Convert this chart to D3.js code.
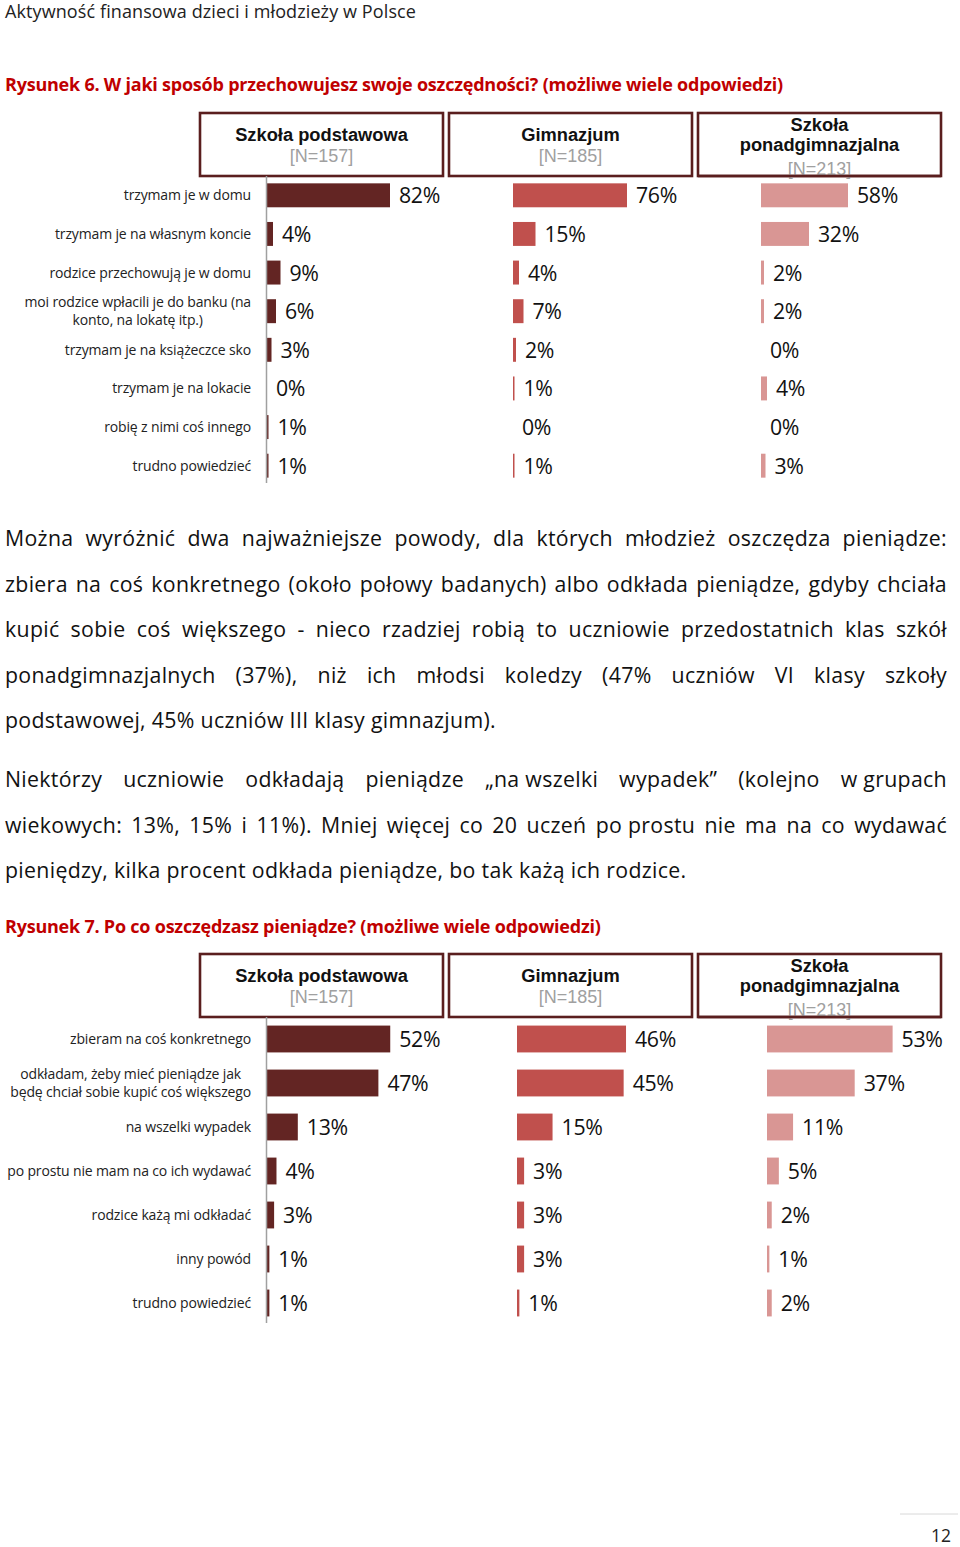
<!DOCTYPE html>
<html>
<head>
<meta charset="utf-8">
<script src="https://cdn.jsdelivr.net/npm/d3@7"></script>
<style>
  html, body { margin: 0; padding: 0; background: #fff; }
  svg { display: block; }
</style>
</head>
<body>
<svg id="page" width="960" height="1547"></svg>
<script>
// ---------- DATA ----------
const pageTitle = "Aktywność finansowa dzieci i młodzieży w Polsce";
const fig6Title = "Rysunek 6. W jaki sposób przechowujesz swoje oszczędności? (możliwe wiele odpowiedzi)";
const fig7Title = "Rysunek 7. Po co oszczędzasz pieniądze? (możliwe wiele odpowiedzi)";
const pageNumber = "12";

const groupNames = ["Szkoła podstawowa", "Gimnazjum", "Szkoła\nponadgimnazjalna"];
const groupN = ["[N=157]", "[N=185]", "[N=213]"];

const fig6Categories = [
  "trzymam je w domu",
  "trzymam je na własnym koncie",
  "rodzice przechowują je w domu",
  "moi rodzice wpłacili je do banku (na\nkonto, na lokatę itp.)",
  "trzymam je na książeczce sko",
  "trzymam je na lokacie",
  "robię z nimi coś innego",
  "trudno powiedzieć"
];
const fig6Podstawowa = [82, 4, 9, 6, 3, 0, 1, 1];
const fig6Gimnazjum  = [76, 15, 4, 7, 2, 1, 0, 1];
const fig6Ponadgim   = [58, 32, 2, 2, 0, 4, 0, 3];

const fig7Categories = [
  "zbieram na coś konkretnego",
  "odkładam, żeby mieć pieniądze jak\nbędę chciał sobie kupić coś większego",
  "na wszelki wypadek",
  "po prostu nie mam na co ich wydawać",
  "rodzice każą mi odkładać",
  "inny powód",
  "trudno powiedzieć"
];
const fig7Podstawowa = [52, 47, 13, 4, 3, 1, 1];
const fig7Gimnazjum  = [46, 45, 15, 3, 3, 3, 1];
const fig7Ponadgim   = [53, 37, 11, 5, 2, 1, 2];

const paragraph1 = [
  "Można wyróżnić dwa najważniejsze powody, dla których młodzież oszczędza pieniądze:",
  "zbiera na coś konkretnego (około połowy badanych) albo odkłada pieniądze, gdyby chciała",
  "kupić sobie coś większego - nieco rzadziej robią to uczniowie przedostatnich klas szkół",
  "ponadgimnazjalnych (37%), niż ich młodsi koledzy (47% uczniów VI klasy szkoły",
  "podstawowej, 45% uczniów III klasy gimnazjum)."
];
const paragraph2 = [
  "Niektórzy uczniowie odkładają pieniądze „na\u00a0wszelki wypadek” (kolejno w\u00a0grupach",
  "wiekowych: 13%, 15% i 11%). Mniej więcej co 20 uczeń po\u00a0prostu nie ma na co wydawać",
  "pieniędzy, kilka procent odkłada pieniądze, bo tak każą ich rodzice."
];

// ---------- STYLE ----------
const bodyFont = "'Open Sans', Lato, sans-serif";
const headFont = "'Liberation Sans', Arial, Helvetica, sans-serif";
const barColors = ["#632523", "#c0504d", "#d99694"];
const boxColor = "#5a1e1e";

const svg = d3.select("#page");
svg.append("rect").attr("width", 960).attr("height", 1547).attr("fill", "#fff");

// letter-spacing needed so that a sample string reaches a target width
function fitSpacing(sample, size, weight, target) {
  const t = svg.append("text").attr("font-family", bodyFont).attr("font-size", size)
    .attr("font-weight", weight).text(sample);
  const L = t.node().getComputedTextLength();
  t.remove();
  return (target - L) / [...sample].length;
}
const titleSize = 18, figSize = 18, bodySize = 21.3, labelSize = 14, pctSize = 21.3;
const titleLS = fitSpacing(pageTitle, titleSize, "normal", 411);
const figLS = fitSpacing(fig6Title, figSize, "bold", 778);
const bodyLS = fitSpacing(paragraph1[4], bodySize, "normal", 491);
const labelLS = fitSpacing("trzymam je na własnym koncie", labelSize, "normal", 196);
const pctLS = fitSpacing("82%", pctSize, "normal", 41);

// page title
svg.append("text").attr("x", 5).attr("y", 18)
  .attr("font-family", bodyFont).attr("font-size", titleSize).attr("fill", "#222")
  .attr("letter-spacing", titleLS).text(pageTitle);

function figTitle(t, y) {
  svg.append("text").attr("x", 5).attr("y", y)
    .attr("font-family", bodyFont).attr("font-size", figSize).attr("font-weight", "bold")
    .attr("letter-spacing", figLS).attr("fill", "#c00000").text(t);
}
figTitle(fig6Title, 91);
figTitle(fig7Title, 933);

// ---------- CHART ----------
function drawChart(cfg) {
  const g = svg.append("g");
  const boxes = [[200, 443], [449, 692], [698, 941]];
  boxes.forEach((b, i) => {
    g.append("rect").attr("x", b[0]).attr("y", cfg.boxTop)
      .attr("width", b[1] - b[0]).attr("height", cfg.boxBottom - cfg.boxTop)
      .attr("fill", "#fff").attr("stroke", boxColor).attr("stroke-width", 2.6);
    const cx = (b[0] + b[1]) / 2;
    const lines = groupNames[i].split("\n");
    const t = g.append("text").attr("text-anchor", "middle")
      .attr("font-family", headFont).attr("font-weight", "bold")
      .attr("font-size", 18.3).attr("fill", "#111");
    if (lines.length === 1) {
      t.append("tspan").attr("x", cx).attr("y", cfg.boxTop + 28).text(lines[0]);
      g.append("text").attr("text-anchor", "middle").attr("x", cx).attr("y", cfg.boxTop + 48.5)
        .attr("font-family", headFont).attr("font-size", 18).attr("fill", "#a0a0a0")
        .text(groupN[i]);
    } else {
      lines.forEach((l, k) => t.append("tspan").attr("x", cx).attr("y", cfg.boxTop + 18 + k * 19.5).text(l));
      g.append("text").attr("text-anchor", "middle").attr("x", cx).attr("y", cfg.boxTop + 62)
        .attr("font-family", headFont).attr("font-size", 18).attr("fill", "#a0a0a0")
        .text(groupN[i]);
      g.append("line").attr("x1", b[0]).attr("x2", b[1]).attr("y1", cfg.boxBottom).attr("y2", cfg.boxBottom)
        .attr("stroke", boxColor).attr("stroke-width", 2.6);
    }
  });

  const y = d3.scaleBand().domain(cfg.categories).range([cfg.boxBottom, cfg.bottom]).padding(0);
  const bh = y.step() * cfg.barFrac;

  // category labels
  cfg.categories.forEach(c => {
    const cy = y(c) + y.bandwidth() / 2;
    const lines = c.split("\n");
    const t = g.append("text")
      .attr("font-family", bodyFont).attr("font-size", labelSize).attr("fill", "#222")
      .attr("letter-spacing", labelLS);
    if (lines.length === 1) {
      t.attr("x", 251).attr("y", cy + 5).attr("text-anchor", "end").text(c);
    } else {
      t.attr("text-anchor", "middle");
      const spans = lines.map((l, k) => t.append("tspan").attr("y", cy + 5 + (k - (lines.length - 1) / 2) * 18.5).text(l));
      const w = d3.max(spans, s => s.node().getComputedTextLength());
      spans.forEach(s => s.attr("x", 251 - w / 2));
    }
  });

  cfg.series.forEach((vals, i) => {
    const x = d3.scaleLinear().domain([0, 100]).range([cfg.starts[i], cfg.starts[i] + cfg.pxPer100]);
    g.selectAll(null).data(vals).enter().append("rect")
      .attr("x", x(0))
      .attr("y", (d, k) => y(cfg.categories[k]) + (y.bandwidth() - bh) / 2)
      .attr("width", d => x(d) - x(0))
      .attr("height", bh)
      .attr("fill", barColors[i]);
    g.selectAll(null).data(vals).enter().append("text")
      .attr("x", d => x(d) + 9)
      .attr("y", (d, k) => y(cfg.categories[k]) + y.bandwidth() / 2 + 8)
      .attr("font-family", bodyFont).attr("font-size", pctSize).attr("fill", "#111")
      .attr("letter-spacing", pctLS)
      .text(d => d + "%");
  });

  const axis = d3.axisLeft(y).tickSize(0).tickFormat("");
  const ag = g.append("g").attr("transform", `translate(${cfg.starts[0] - 0.5},0)`).call(axis);
  ag.select(".domain").attr("stroke", "#a0a0a0").attr("stroke-width", 1.5)
    .attr("d", `M0,${cfg.boxBottom}V${cfg.bottom - 2}`);
}

drawChart({
  categories: fig6Categories,
  series: [fig6Podstawowa, fig6Gimnazjum, fig6Ponadgim],
  boxTop: 113, boxBottom: 176, bottom: 485,
  starts: [267, 513, 761], pxPer100: 150, barFrac: 0.62
});

drawChart({
  categories: fig7Categories,
  series: [fig7Podstawowa, fig7Gimnazjum, fig7Ponadgim],
  boxTop: 954, boxBottom: 1017, bottom: 1325,
  starts: [267, 517, 767], pxPer100: 237, barFrac: 0.61
});

// ---------- PARAGRAPHS (justified) ----------
function paragraph(lines, y0, step) {
  lines.forEach((line, i) => {
    const yy = y0 + i * step;
    const t = svg.append("text").attr("y", yy)
      .attr("font-family", bodyFont).attr("font-size", bodySize).attr("fill", "#111")
      .attr("letter-spacing", bodyLS);
    if (i === lines.length - 1) {
      t.attr("x", 5).text(line);
      return;
    }
    const words = line.split(" ");
    const spans = words.map(w => t.append("tspan").attr("y", yy).text(w));
    const widths = spans.map(s => s.node().getComputedTextLength());
    const total = d3.sum(widths);
    const gap = (947 - 5 - total) / (words.length - 1);
    let x = 5;
    spans.forEach((s, k) => { s.attr("x", x); x += widths[k] + gap; });
  });
}
paragraph(paragraph1, 546, 45.6);
paragraph(paragraph2, 787, 45.6);

// ---------- PAGE NUMBER ----------
svg.append("line").attr("x1", 900).attr("x2", 958).attr("y1", 1514).attr("y2", 1514)
  .attr("stroke", "#d8d8d8").attr("stroke-width", 1);
svg.append("text").attr("x", 951).attr("y", 1542).attr("text-anchor", "end")
  .attr("font-family", bodyFont).attr("font-size", 17.5).attr("fill", "#222").text(pageNumber);
</script>
</body>
</html>
